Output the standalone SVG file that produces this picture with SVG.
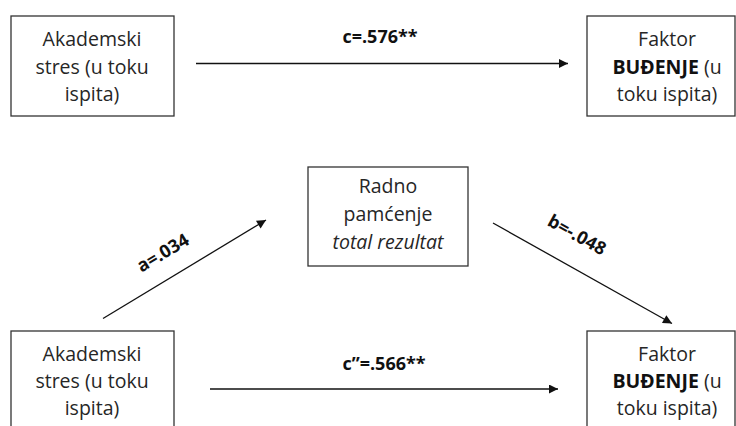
<svg xmlns="http://www.w3.org/2000/svg" width="736" height="426" viewBox="0 0 736 426">
  <defs>
    <marker id="arrow" viewBox="0 0 10 10" refX="10" refY="5" markerWidth="11" markerHeight="9" markerUnits="userSpaceOnUse" orient="auto">
      <path d="M0,0 L10,5 L0,10 Z" fill="#111"/>
    </marker>
    <style>
      .box { fill: #fff; stroke: #333; stroke-width: 1.3; }
      .txt { font-family: "Open Sans", "Liberation Sans", sans-serif; font-size: 19.5px; fill: #262626; text-anchor: middle; }
      .b { font-weight: bold; fill: #111; }
      .i { font-style: italic; }
      .lbl { font-family: "Open Sans", "Liberation Sans", sans-serif; font-size: 18px; font-weight: bold; fill: #111; text-anchor: middle; }
      .edge { stroke: #111; stroke-width: 1.3; fill: none; marker-end: url(#arrow); }
    </style>
  </defs>
  <rect width="736" height="426" fill="#fff"/>

  <!-- total effect (top row) -->
  <g id="stress-top">
    <rect class="box" x="11" y="16" width="163" height="100"/>
    <text class="txt" x="92" y="46">Akademski</text>
    <text class="txt" x="92" y="73.5">stres (u toku</text>
    <text class="txt" x="92" y="101">ispita)</text>
  </g>
  <g id="arousal-top">
    <rect class="box" x="587" y="16" width="148" height="100"/>
    <text class="txt" x="667" y="46">Faktor</text>
    <text class="txt" x="667" y="73.5"><tspan class="b">BUĐENJE</tspan> (u</text>
    <text class="txt" x="667" y="101">toku ispita)</text>
  </g>

  <!-- mediator -->
  <g id="memory">
    <rect class="box" x="308" y="167" width="160" height="99"/>
    <text class="txt" x="388" y="193">Radno</text>
    <text class="txt" x="388" y="221">pamćenje</text>
    <text class="txt i" x="388" y="249">total rezultat</text>
  </g>

  <!-- mediated model (bottom row) -->
  <g id="stress-bottom">
    <rect class="box" x="11" y="331" width="163" height="110"/>
    <text class="txt" x="92" y="361">Akademski</text>
    <text class="txt" x="92" y="388">stres (u toku</text>
    <text class="txt" x="92" y="415">ispita)</text>
  </g>
  <g id="arousal-bottom">
    <rect class="box" x="587" y="331" width="148" height="110"/>
    <text class="txt" x="667" y="361">Faktor</text>
    <text class="txt" x="667" y="388"><tspan class="b">BUĐENJE</tspan> (u</text>
    <text class="txt" x="667" y="415">toku ispita)</text>
  </g>

  <g id="connectors">
    <line class="edge" x1="196" y1="63.5" x2="568" y2="63.5"/>
    <text class="lbl" x="380" y="43">c=.576**</text>

    <line class="edge" x1="103" y1="318.5" x2="266" y2="220"/>
    <text class="lbl" transform="translate(163,253) rotate(-31)" x="0" y="6">a=.034</text>

    <line class="edge" x1="493" y1="223" x2="672" y2="323.5"/>
    <text class="lbl" transform="translate(577,235) rotate(29)" x="0" y="6">b=-.048</text>

    <line class="edge" x1="210" y1="389" x2="558" y2="389"/>
    <text class="lbl" x="384" y="370">c”=.566**</text>
  </g>
</svg>
